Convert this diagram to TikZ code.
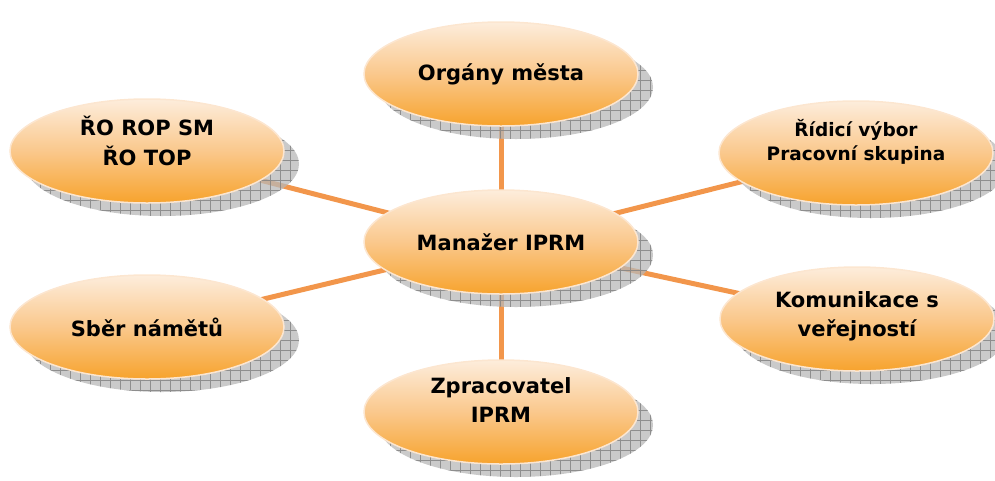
\documentclass[tikz,border=0pt]{standalone}
\usepackage{fontspec}
\setmainfont{DejaVu Sans}
\usetikzlibrary{shapes.geometric,calc}
\pgfdeclarelayer{linelayer}
\pgfdeclarelayer{shadowlayer}
\pgfsetlayers{linelayer,shadowlayer,main}
\definecolor{topc}{RGB}{253,237,220}
\definecolor{midc}{RGB}{250,200,140}
\definecolor{botc}{RGB}{247,163,45}
\definecolor{rimc}{RGB}{252,230,208}
\definecolor{linec}{RGB}{242,150,75}
\newcommand\uplines[2][6pt]{\raisebox{#1}[\height][\depth]{\begin{tabular}{@{}c@{}}#2\end{tabular}}}
\tikzset{
  bubble/.style={ellipse, minimum width=274pt, minimum height=104pt, inner sep=0pt,
    top color=topc, bottom color=botc, middle color=midc, draw=rimc, line width=1.5pt,
    font=\bfseries\fontsize{21}{29}\selectfont, align=center, text=black},
  conn/.style={draw=linec, line width=5pt}
}
\newcommand\ellshadow[1]{%
  \begin{scope}
    \clip ($(#1)+(15,13)$) ellipse [x radius=137pt, y radius=52pt];
    \fill[black!28, opacity=0.75] ($(#1)+(-140,-60)$) rectangle ($(#1)+(170,80)$);
    \draw[black!50, line width=0.7pt, opacity=0.8, step=10pt] ($(#1)+(-140,-60)$) grid ($(#1)+(170,80)$);
  \end{scope}}
\begin{document}
\begin{tikzpicture}[x=1pt,y=-1pt]
\useasboundingbox (0,0) rectangle (995,480);
\node[bubble] (O) at (501,74) {Orgány města};
\node[bubble] (M) at (501,242) {Manažer IPRM};
\node[bubble] (R) at (147,151) {\uplines{ŘO ROP SM\\[1pt]ŘO TOP}};
\node[bubble, font=\bfseries\fontsize{18.5}{24}\selectfont] (D) at (856,153) {\uplines[9pt]{Řídicí výbor\\Pracovní skupina}};
\node[bubble] (S) at (147,327) {Sběr námětů};
\node[bubble] (K) at (857,319) {\uplines[3pt]{Komunikace s\\veřejností}};
\node[bubble] (Z) at (501,412) {\uplines[10pt]{Zpracovatel\\IPRM}};
\begin{pgfonlayer}{linelayer}
\draw[conn] (M.center) -- (O.center);
\draw[conn] (M.center) -- (R.center);
\draw[conn] (M.center) -- (D.center);
\draw[conn] (M.center) -- (S.center);
\draw[conn] (M.center) -- (K.center);
\draw[conn] (M.center) -- (Z.center);
\end{pgfonlayer}
\begin{pgfonlayer}{shadowlayer}
\ellshadow{O}
\ellshadow{M}
\ellshadow{R}
\ellshadow{D}
\ellshadow{S}
\ellshadow{K}
\ellshadow{Z}
\end{pgfonlayer}
\end{tikzpicture}
\end{document}
